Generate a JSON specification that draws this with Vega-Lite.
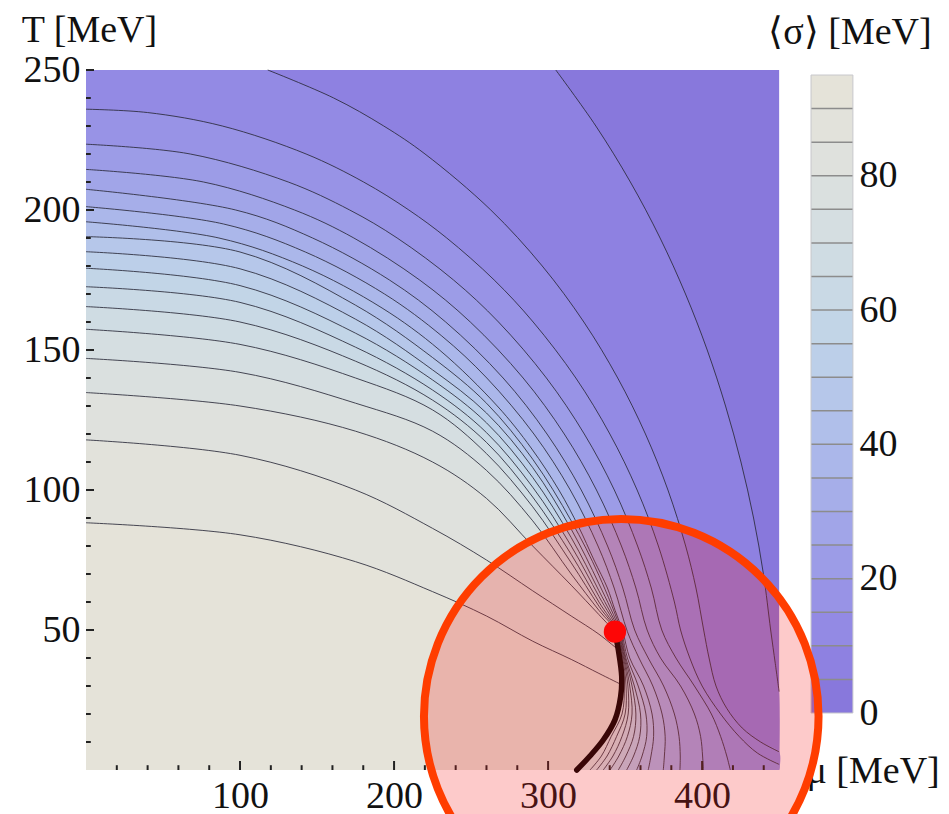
{
"$schema":"https://vega.github.io/schema/vega-lite/v6.json",
"width":707,"height":700,
"autosize":{"type":"none"},
"padding":{"left":86,"top":70,"right":156,"bottom":44},
"config":{"view":{"stroke":null},"font":"Liberation Serif"},
"datasets":{
"c":[
{"lvl":0,"mu":450,"T":0,"b":1},{"lvl":0,"mu":450,"T":250,"b":1},
{"lvl":5,"mu":450,"T":0,"b":1},{"lvl":5,"mu":450,"T":28},{"lvl":5,"mu":447.5,"T":38},{"lvl":5,"mu":444.5,"T":50},{"lvl":5,"mu":439.8,"T":70},{"lvl":5,"mu":433.4,"T":90},{"lvl":5,"mu":425.2,"T":110},{"lvl":5,"mu":415.2,"T":130},{"lvl":5,"mu":403.3,"T":150},{"lvl":5,"mu":389.2,"T":170},{"lvl":5,"mu":372.7,"T":190},{"lvl":5,"mu":353.4,"T":210},{"lvl":5,"mu":331,"T":230},{"lvl":5,"mu":305,"T":250},
{"lvl":10,"mu":450,"T":0,"b":1},{"lvl":10,"mu":450,"T":6.5},{"lvl":10,"mu":438,"T":10},{"lvl":10,"mu":426,"T":15},{"lvl":10,"mu":416,"T":22},{"lvl":10,"mu":409,"T":30},{"lvl":10,"mu":404.5,"T":40},{"lvl":10,"mu":401,"T":50},{"lvl":10,"mu":396,"T":65},{"lvl":10,"mu":389.3,"T":80},{"lvl":10,"mu":377.8,"T":100},{"lvl":10,"mu":363.2,"T":120},{"lvl":10,"mu":345.2,"T":140},{"lvl":10,"mu":323.2,"T":160},{"lvl":10,"mu":296.2,"T":180},{"lvl":10,"mu":262.8,"T":200},{"lvl":10,"mu":220.1,"T":220},{"lvl":10,"mu":193.3,"T":230},{"lvl":10,"mu":160.8,"T":240},{"lvl":10,"mu":118,"T":250},
{"lvl":15,"mu":450,"T":0,"b":1},{"lvl":15,"mu":450,"T":2},{"lvl":15,"mu":436,"T":6},{"lvl":15,"mu":424,"T":12},{"lvl":15,"mu":412,"T":20},{"lvl":15,"mu":400,"T":30},{"lvl":15,"mu":392,"T":40},{"lvl":15,"mu":386,"T":50},{"lvl":15,"mu":382,"T":60},{"lvl":15,"mu":371.6,"T":80},{"lvl":15,"mu":357.8,"T":100},{"lvl":15,"mu":340.1,"T":120},{"lvl":15,"mu":318,"T":140},{"lvl":15,"mu":290.3,"T":160},{"lvl":15,"mu":265,"T":175},{"lvl":15,"mu":234.2,"T":190},{"lvl":15,"mu":209.6,"T":200},{"lvl":15,"mu":180.2,"T":210},{"lvl":15,"mu":142.9,"T":220},{"lvl":15,"mu":88.5,"T":230},{"lvl":15,"mu":40,"T":234.8},{"lvl":15,"mu":0,"T":236},
{"lvl":20,"mu":418.3,"T":0},{"lvl":20,"mu":416,"T":5},{"lvl":20,"mu":412,"T":12},{"lvl":20,"mu":406,"T":20},{"lvl":20,"mu":395,"T":30},{"lvl":20,"mu":383,"T":40},{"lvl":20,"mu":373.8,"T":50},{"lvl":20,"mu":367,"T":65},{"lvl":20,"mu":358.1,"T":80},{"lvl":20,"mu":343,"T":100},{"lvl":20,"mu":323.5,"T":120},{"lvl":20,"mu":298.9,"T":140},{"lvl":20,"mu":267.8,"T":160},{"lvl":20,"mu":238.6,"T":175},{"lvl":20,"mu":202,"T":190},{"lvl":20,"mu":171.2,"T":200},{"lvl":20,"mu":131.3,"T":210},{"lvl":20,"mu":67.7,"T":220},{"lvl":20,"mu":0,"T":223.5},
{"lvl":25,"mu":400.8,"T":0},{"lvl":25,"mu":400.3,"T":5},{"lvl":25,"mu":399,"T":12},{"lvl":25,"mu":395,"T":20},{"lvl":25,"mu":386,"T":30},{"lvl":25,"mu":373,"T":40},{"lvl":25,"mu":364.3,"T":50},{"lvl":25,"mu":357,"T":65},{"lvl":25,"mu":347.6,"T":80},{"lvl":25,"mu":331.4,"T":100},{"lvl":25,"mu":310.5,"T":120},{"lvl":25,"mu":283.8,"T":140},{"lvl":25,"mu":249.5,"T":160},{"lvl":25,"mu":216.6,"T":175},{"lvl":25,"mu":173.9,"T":190},{"lvl":25,"mu":135.4,"T":200},{"lvl":25,"mu":76.3,"T":210},{"lvl":25,"mu":0,"T":214.5},
{"lvl":30,"mu":385.6,"T":0},{"lvl":30,"mu":385.8,"T":5},{"lvl":30,"mu":385,"T":12},{"lvl":30,"mu":382,"T":20},{"lvl":30,"mu":375,"T":30},{"lvl":30,"mu":365,"T":40},{"lvl":30,"mu":356.2,"T":50},{"lvl":30,"mu":348.5,"T":65},{"lvl":30,"mu":338.6,"T":80},{"lvl":30,"mu":321.5,"T":100},{"lvl":30,"mu":299.3,"T":120},{"lvl":30,"mu":270.8,"T":140},{"lvl":30,"mu":233.5,"T":160},{"lvl":30,"mu":197,"T":175},{"lvl":30,"mu":147.1,"T":190},{"lvl":30,"mu":97.2,"T":200},{"lvl":30,"mu":0,"T":207.4},
{"lvl":35,"mu":374.8,"T":0},{"lvl":35,"mu":375.5,"T":5},{"lvl":35,"mu":376,"T":12},{"lvl":35,"mu":374,"T":20},{"lvl":35,"mu":368,"T":30},{"lvl":35,"mu":359,"T":40},{"lvl":35,"mu":351.5,"T":49.4},{"lvl":35,"mu":342.9,"T":65},{"lvl":35,"mu":332.4,"T":80},{"lvl":35,"mu":314.4,"T":100},{"lvl":35,"mu":290.8,"T":120},{"lvl":35,"mu":260.2,"T":140},{"lvl":35,"mu":231,"T":155},{"lvl":35,"mu":193.8,"T":170},{"lvl":35,"mu":142.4,"T":185},{"lvl":35,"mu":89.3,"T":195},{"lvl":35,"mu":0,"T":201.2},
{"lvl":40,"mu":365,"T":0},{"lvl":40,"mu":366.8,"T":5},{"lvl":40,"mu":368.5,"T":12},{"lvl":40,"mu":367.5,"T":20},{"lvl":40,"mu":362,"T":30},{"lvl":40,"mu":353,"T":40},{"lvl":40,"mu":348.5,"T":49.4},{"lvl":40,"mu":343.5,"T":57},{"lvl":40,"mu":338.5,"T":65},{"lvl":40,"mu":329.8,"T":75},{"lvl":40,"mu":319.7,"T":87},{"lvl":40,"mu":307,"T":100},{"lvl":40,"mu":289,"T":115},{"lvl":40,"mu":267,"T":130},{"lvl":40,"mu":229.5,"T":150},{"lvl":40,"mu":192.2,"T":165},{"lvl":40,"mu":140.6,"T":180},{"lvl":40,"mu":86.3,"T":190},{"lvl":40,"mu":0,"T":195.8},
{"lvl":45,"mu":357.5,"T":0},{"lvl":45,"mu":361,"T":5},{"lvl":45,"mu":364,"T":12},{"lvl":45,"mu":363.5,"T":20},{"lvl":45,"mu":358.5,"T":30},{"lvl":45,"mu":351.5,"T":40},{"lvl":45,"mu":347.5,"T":49.4},{"lvl":45,"mu":333,"T":69.5},{"lvl":45,"mu":315,"T":89},{"lvl":45,"mu":290,"T":111},{"lvl":45,"mu":260,"T":131},{"lvl":45,"mu":225,"T":147.3},{"lvl":45,"mu":175,"T":166},{"lvl":45,"mu":100,"T":185},{"lvl":45,"mu":0,"T":190.5},
{"lvl":50,"mu":351,"T":0},{"lvl":50,"mu":355.5,"T":5},{"lvl":50,"mu":359.5,"T":12},{"lvl":50,"mu":360,"T":20},{"lvl":50,"mu":356,"T":30},{"lvl":50,"mu":350.5,"T":40},{"lvl":50,"mu":346.8,"T":49.4},{"lvl":50,"mu":333,"T":66.5},{"lvl":50,"mu":315,"T":86},{"lvl":50,"mu":290,"T":108},{"lvl":50,"mu":260,"T":127.5},{"lvl":50,"mu":225,"T":142.9},{"lvl":50,"mu":175,"T":161},{"lvl":50,"mu":100,"T":179},{"lvl":50,"mu":0,"T":185.1},
{"lvl":55,"mu":345.6,"T":0},{"lvl":55,"mu":350.5,"T":5},{"lvl":55,"mu":355.5,"T":12},{"lvl":55,"mu":357,"T":20},{"lvl":55,"mu":354.5,"T":30},{"lvl":55,"mu":350,"T":40},{"lvl":55,"mu":346.2,"T":49.4},{"lvl":55,"mu":333,"T":64},{"lvl":55,"mu":315,"T":83},{"lvl":55,"mu":290,"T":104.5},{"lvl":55,"mu":260,"T":124},{"lvl":55,"mu":225,"T":139.3},{"lvl":55,"mu":175,"T":156},{"lvl":55,"mu":100,"T":173},{"lvl":55,"mu":0,"T":179.2},
{"lvl":60,"mu":340.2,"T":0},{"lvl":60,"mu":345.9,"T":5},{"lvl":60,"mu":351.5,"T":12},{"lvl":60,"mu":354.5,"T":20},{"lvl":60,"mu":353,"T":30},{"lvl":60,"mu":349.5,"T":40},{"lvl":60,"mu":345.6,"T":49.4},{"lvl":60,"mu":333,"T":62},{"lvl":60,"mu":315,"T":80},{"lvl":60,"mu":290,"T":101},{"lvl":60,"mu":260,"T":120.5},{"lvl":60,"mu":225,"T":135.7},{"lvl":60,"mu":175,"T":151},{"lvl":60,"mu":100,"T":167},{"lvl":60,"mu":0,"T":172.6},
{"lvl":65,"mu":335.8,"T":0},{"lvl":65,"mu":342.1,"T":5},{"lvl":65,"mu":348,"T":12},{"lvl":65,"mu":352,"T":20},{"lvl":65,"mu":351.8,"T":30},{"lvl":65,"mu":349,"T":40},{"lvl":65,"mu":345.1,"T":49.4},{"lvl":65,"mu":333,"T":60},{"lvl":65,"mu":315,"T":77},{"lvl":65,"mu":290,"T":97.5},{"lvl":65,"mu":260,"T":117},{"lvl":65,"mu":225,"T":132.1},{"lvl":65,"mu":175,"T":146},{"lvl":65,"mu":100,"T":160},{"lvl":65,"mu":0,"T":165.5},
{"lvl":70,"mu":331.5,"T":0},{"lvl":70,"mu":338.3,"T":5},{"lvl":70,"mu":344.5,"T":12},{"lvl":70,"mu":350,"T":20},{"lvl":70,"mu":350.6,"T":30},{"lvl":70,"mu":348.5,"T":40},{"lvl":70,"mu":344.7,"T":49.4},{"lvl":70,"mu":333,"T":58.5},{"lvl":70,"mu":315,"T":74},{"lvl":70,"mu":290,"T":94},{"lvl":70,"mu":260,"T":113},{"lvl":70,"mu":225,"T":128.6},{"lvl":70,"mu":175,"T":140},{"lvl":70,"mu":100,"T":152},{"lvl":70,"mu":0,"T":157.4},
{"lvl":75,"mu":327.2,"T":0},{"lvl":75,"mu":334.6,"T":5},{"lvl":75,"mu":341,"T":12},{"lvl":75,"mu":348,"T":20},{"lvl":75,"mu":349.5,"T":30},{"lvl":75,"mu":348,"T":40},{"lvl":75,"mu":344.3,"T":49.4},{"lvl":75,"mu":333,"T":57},{"lvl":75,"mu":315,"T":70},{"lvl":75,"mu":290,"T":89},{"lvl":75,"mu":260,"T":107},{"lvl":75,"mu":225,"T":121},{"lvl":75,"mu":175,"T":131},{"lvl":75,"mu":100,"T":142},{"lvl":75,"mu":0,"T":147},
{"lvl":80,"mu":318.6,"T":0,"b":1},{"lvl":80,"mu":327.2,"T":5,"b":1},{"lvl":80,"mu":335.8,"T":10.7,"b":1},{"lvl":80,"mu":343.4,"T":17.9,"b":1},{"lvl":80,"mu":347.1,"T":26.2,"b":1},{"lvl":80,"mu":347.8,"T":33.3,"b":1},{"lvl":80,"mu":345.6,"T":42.9,"b":1},{"lvl":80,"mu":343.4,"T":49.4},{"lvl":80,"mu":333,"T":55.5},{"lvl":80,"mu":315,"T":66},{"lvl":80,"mu":290,"T":80},{"lvl":80,"mu":260,"T":97},{"lvl":80,"mu":225,"T":110},{"lvl":80,"mu":175,"T":121},{"lvl":80,"mu":100,"T":130},{"lvl":80,"mu":0,"T":134.8},
{"lvl":85,"mu":318.6,"T":0,"b":1},{"lvl":85,"mu":327.2,"T":5,"b":1},{"lvl":85,"mu":335.8,"T":10.7,"b":1},{"lvl":85,"mu":343.4,"T":17.9,"b":1},{"lvl":85,"mu":347.1,"T":26.2,"b":1},{"lvl":85,"mu":347.8,"T":33.3,"b":1},{"lvl":85,"mu":345.6,"T":42.9},{"lvl":85,"mu":333,"T":48.5},{"lvl":85,"mu":315,"T":55},{"lvl":85,"mu":290,"T":64},{"lvl":85,"mu":260,"T":75},{"lvl":85,"mu":225,"T":86.3},{"lvl":85,"mu":175,"T":100},{"lvl":85,"mu":100,"T":112.4},{"lvl":85,"mu":0,"T":117.9},
{"lvl":90,"mu":318.6,"T":0,"b":1},{"lvl":90,"mu":327.2,"T":5,"b":1},{"lvl":90,"mu":335.8,"T":10.7,"b":1},{"lvl":90,"mu":343.4,"T":17.9,"b":1},{"lvl":90,"mu":347.1,"T":26.2,"b":1},{"lvl":90,"mu":347.6,"T":30.5},{"lvl":90,"mu":333,"T":34.5},{"lvl":90,"mu":315,"T":39.5},{"lvl":90,"mu":290,"T":46},{"lvl":90,"mu":260,"T":55},{"lvl":90,"mu":225,"T":63.7},{"lvl":90,"mu":175,"T":74.4},{"lvl":90,"mu":100,"T":84},{"lvl":90,"mu":0,"T":88.3}
],
"bands":[{"lvl":0,"hi":5},{"lvl":5,"hi":10},{"lvl":10,"hi":15},{"lvl":15,"hi":20},{"lvl":20,"hi":25},{"lvl":25,"hi":30},{"lvl":30,"hi":35},{"lvl":35,"hi":40},{"lvl":40,"hi":45},{"lvl":45,"hi":50},{"lvl":50,"hi":55},{"lvl":55,"hi":60},{"lvl":60,"hi":65},{"lvl":65,"hi":70},{"lvl":70,"hi":75},{"lvl":75,"hi":80},{"lvl":80,"hi":85},{"lvl":85,"hi":90},{"lvl":90,"hi":95}],
"xt":[{"mu":20},{"mu":40},{"mu":60},{"mu":80},{"mu":100},{"mu":120},{"mu":140},{"mu":160},{"mu":180},{"mu":200},{"mu":220},{"mu":240},{"mu":260},{"mu":280},{"mu":300},{"mu":320},{"mu":340},{"mu":360},{"mu":380},{"mu":400},{"mu":420},{"mu":440}],
"yt":[{"T":10},{"T":20},{"T":30},{"T":40},{"T":50},{"T":60},{"T":70},{"T":80},{"T":90},{"T":100},{"T":110},{"T":120},{"T":130},{"T":140},{"T":150},{"T":160},{"T":170},{"T":180},{"T":190},{"T":200},{"T":210},{"T":220},{"T":230},{"T":240},{"T":250}],
"fo":[{"mu":318.6,"T":0},{"mu":327.2,"T":5},{"mu":335.8,"T":10.7},{"mu":343.4,"T":17.9},{"mu":347.1,"T":26.2},{"mu":347.8,"T":33.3},{"mu":345.6,"T":42.9},{"mu":343.4,"T":49.4}],
"cep":[{"mu":343.4,"T":49.4}],
"ring":[{"mu":347.5,"T":19.2}]
},
"layer":[
{
"data":{"name":"bands"},
"layer":[
{"mark":{"type":"rect"},
"encoding":{
"x":{"datum":470.7,"type":"quantitative","scale":{"domain":[0,459],"nice":false,"zero":false}},
"x2":{"datum":497.9},
"y":{"field":"lvl","type":"quantitative","scale":{"domain":[-8.487,95.745],"nice":false,"zero":false},
"axis":{"orient":"right","offset":60,"values":[0,20,40,60,80],"ticks":false,"domain":false,"grid":false,"labelFont":"Liberation Serif","labelFontSize":38,"labelColor":"#111","labelPadding":6,"labelBaseline":"middle","labelFlush":false,"labelOverlap":false,"title":"⟨σ⟩ [MeV]","titleFont":"Liberation Serif","titleFontSize":38,"titleFontWeight":"normal","titleColor":"#111","titleAngle":0,"titleX":-3.5,"titleY":-27,"titleAlign":"center","titleBaseline":"alphabetic"}},
"y2":{"field":"hi"},
"color":{"field":"lvl","type":"ordinal","legend":null,"scale":{"domain":[0,5,10,15,20,25,30,35,40,45,50,55,60,65,70,75,80,85,90],"range":["#8878dc","#8e81e1","#938ae4","#9893e6","#9c9ce7","#a1a5e8","#a6aee9","#abb7ea","#b0bfea","#b6c7ea","#bccfe9","#c2d5e7","#c9d9e5","#cfdce3","#d5dee1","#dae0df","#dfe1dd","#e2e2db","#e5e3d9"]}}
}},
{"transform":[{"filter":"datum.lvl > 0"}],
"mark":{"type":"rule","color":"#8c8c8c","strokeWidth":1.5},
"encoding":{
"x":{"datum":470.7,"type":"quantitative","scale":{"domain":[0,459],"nice":false,"zero":false}},
"x2":{"datum":497.9},
"y":{"field":"lvl","type":"quantitative","scale":{"domain":[-8.487,95.745],"nice":false,"zero":false}}
}},
{"transform":[{"filter":"datum.lvl === 0"}],
"mark":{"type":"rect","fill":null,"stroke":"#c8c8cc","strokeWidth":1},
"encoding":{
"x":{"datum":470.7,"type":"quantitative","scale":{"domain":[0,459],"nice":false,"zero":false}},
"x2":{"datum":497.9},
"y":{"datum":0,"type":"quantitative","scale":{"domain":[-8.487,95.745],"nice":false,"zero":false}},
"y2":{"datum":95}
}}
]
},
{
"layer":[
{"data":{"name":"c"},
"mark":{"type":"area","orient":"horizontal","interpolate":"catmull-rom"},
"encoding":{
"x":{"field":"mu","type":"quantitative","stack":null,"scale":{"domain":[0,459],"nice":false,"zero":false},
"axis":{"values":[100,200,300,400],"ticks":false,"domain":false,"grid":false,"labelFont":"Liberation Serif","labelFontSize":38,"labelColor":"#111","labelBaseline":"alphabetic","labelPadding":37,"labelFlush":false,"labelOverlap":false,"title":"μ [MeV]","titleFont":"Liberation Serif","titleFontSize":38,"titleFontWeight":"normal","titleColor":"#111","titleX":720,"titleY":12,"titleAlign":"left","titleBaseline":"alphabetic"}},
"x2":{"datum":0},
"y":{"field":"T","type":"quantitative","scale":{"domain":[0,250],"nice":false,"zero":false},
"axis":{"values":[50,100,150,200,250],"ticks":false,"domain":false,"grid":false,"labelFont":"Liberation Serif","labelFontSize":38,"labelColor":"#111","labelPadding":6,"labelBaseline":"middle","labelFlush":false,"labelOverlap":false,"title":"T [MeV]","titleFont":"Liberation Serif","titleFontSize":38,"titleFontWeight":"normal","titleColor":"#111","titleAngle":0,"titleX":3,"titleY":-29,"titleAlign":"center","titleBaseline":"alphabetic"}},
"color":{"field":"lvl","type":"ordinal","legend":null}
}},
{"data":{"name":"c"},
"transform":[{"filter":"datum.b !== 1 && datum.lvl > 0"}],
"mark":{"type":"line","interpolate":"catmull-rom","color":"#2a2a3a","strokeWidth":1,"opacity":0.85},
"encoding":{
"x":{"field":"mu","type":"quantitative","scale":{"domain":[0,459],"nice":false,"zero":false}},
"y":{"field":"T","type":"quantitative","scale":{"domain":[0,250],"nice":false,"zero":false}},
"detail":{"field":"lvl","type":"ordinal"},
"order":{"field":"T","type":"quantitative"}
}},
{"mark":{"type":"rule","color":"#222","strokeWidth":2.5},
"encoding":{"y":{"datum":0,"type":"quantitative","scale":{"domain":[0,250],"nice":false,"zero":false}},
"x":{"datum":-9,"type":"quantitative","scale":{"domain":[0,459],"nice":false,"zero":false}},"x2":{"datum":459}}},
{"mark":{"type":"rule","color":"#222","strokeWidth":2.5},
"encoding":{"x":{"datum":0,"type":"quantitative","scale":{"domain":[0,459],"nice":false,"zero":false}},
"y":{"datum":-4.3,"type":"quantitative","scale":{"domain":[0,250],"nice":false,"zero":false}},"y2":{"datum":253.6}}},
{"data":{"name":"xt"},"transform":[{"filter":"datum.mu % 100 === 0"}],
"mark":{"type":"tick","orient":"vertical","thickness":2,"yOffset":-4.5,"color":"#222","opacity":1},
"encoding":{"x":{"field":"mu","type":"quantitative","scale":{"domain":[0,459],"nice":false,"zero":false}},
"y":{"datum":0,"type":"quantitative","scale":{"domain":[0,250],"nice":false,"zero":false}},"size":{"value":9}}},
{"data":{"name":"xt"},"transform":[{"filter":"datum.mu % 100 !== 0"}],
"mark":{"type":"tick","orient":"vertical","thickness":2,"yOffset":-2.4,"color":"#222","opacity":1},
"encoding":{"x":{"field":"mu","type":"quantitative","scale":{"domain":[0,459],"nice":false,"zero":false}},
"y":{"datum":0,"type":"quantitative","scale":{"domain":[0,250],"nice":false,"zero":false}},"size":{"value":4.8}}},
{"data":{"name":"yt"},"transform":[{"filter":"datum.T % 50 === 0"}],
"mark":{"type":"tick","orient":"horizontal","thickness":2,"xOffset":4,"color":"#222","opacity":1},
"encoding":{"y":{"field":"T","type":"quantitative","scale":{"domain":[0,250],"nice":false,"zero":false}},
"x":{"datum":0,"type":"quantitative","scale":{"domain":[0,459],"nice":false,"zero":false}},"size":{"value":8}}},
{"data":{"name":"yt"},"transform":[{"filter":"datum.T % 50 !== 0"}],
"mark":{"type":"tick","orient":"horizontal","thickness":2,"xOffset":2.4,"color":"#222","opacity":1},
"encoding":{"y":{"field":"T","type":"quantitative","scale":{"domain":[0,250],"nice":false,"zero":false}},
"x":{"datum":0,"type":"quantitative","scale":{"domain":[0,459],"nice":false,"zero":false}},"size":{"value":4.8}}},
{"data":{"name":"fo"},
"mark":{"type":"line","interpolate":"catmull-rom","color":"#000","strokeWidth":5.5,"strokeCap":"round"},
"encoding":{"x":{"field":"mu","type":"quantitative","scale":{"domain":[0,459],"nice":false,"zero":false}},
"y":{"field":"T","type":"quantitative","scale":{"domain":[0,250],"nice":false,"zero":false}},
"order":{"field":"T","type":"quantitative"}}},
{"data":{"name":"cep"},
"mark":{"type":"point","shape":"circle","filled":true,"size":500,"color":"#ff0000","opacity":1},
"encoding":{"x":{"field":"mu","type":"quantitative","scale":{"domain":[0,459],"nice":false,"zero":false}},
"y":{"field":"T","type":"quantitative","scale":{"domain":[0,250],"nice":false,"zero":false}}}},
{"data":{"name":"ring"},
"mark":{"type":"point","shape":"circle","size":155700,"fill":"#f51818","fillOpacity":0.23,"stroke":"#ff3d00","strokeWidth":8,"strokeOpacity":1,"opacity":1},
"encoding":{"x":{"field":"mu","type":"quantitative","scale":{"domain":[0,459],"nice":false,"zero":false}},
"y":{"field":"T","type":"quantitative","scale":{"domain":[0,250],"nice":false,"zero":false}}}}
]
}
],
"resolve":{"scale":{"y":"independent"}}
}
